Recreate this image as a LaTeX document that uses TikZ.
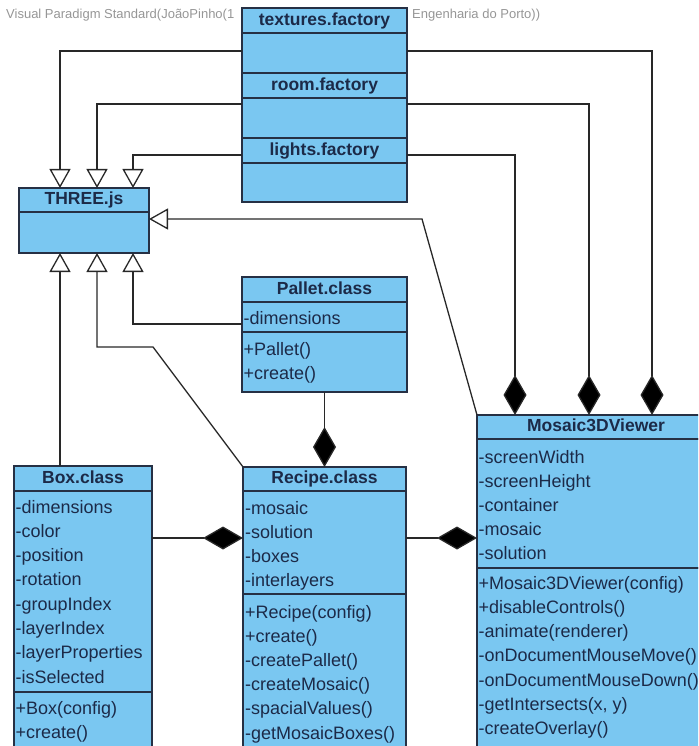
\documentclass[tikz,border=0pt]{standalone}
\usepackage{fontspec}
\setmainfont{Liberation Sans}
\usetikzlibrary{arrows.meta,calc}

\definecolor{clsfill}{RGB}{122,199,241}
\definecolor{clsline}{RGB}{38,48,68}
\definecolor{clstext}{RGB}{28,42,72}
\definecolor{wmark}{RGB}{150,150,150}
\definecolor{conn}{RGB}{40,40,40}

\tikzset{
  part/.style={draw=clsline, fill=clsfill, line width=1.3pt, inner sep=0pt,
    outer sep=0pt, anchor=north west},
  head/.style={part, font=\bfseries\fontsize{17.5}{20}\selectfont, text=clstext,
    text height=13pt, text depth=3.5pt},
  member/.style={anchor=base west, inner sep=0pt, text=clstext,
    font=\fontsize{18}{20}\selectfont},
  wm/.style={anchor=base west, inner sep=0pt, text=wmark,
    font=\fontsize{13}{15}\selectfont},
  gen/.style={draw=conn, line width=1.3pt,
    -{Triangle[length=19pt,width=21pt,fill=white]}},
  comp/.style={draw=conn, line width=1.3pt,
    -{Diamond[length=40pt,width=23pt,fill=black]}},
}

\begin{document}
\begin{tikzpicture}[x=1pt,y=-1pt]
\useasboundingbox (0,0) rectangle (698,746);
\clip (0,0) rectangle (698,746);

% tool header line
\node[wm] (wm1) at (6,19) {Visual Paradigm Standard(JoãoPinho(1};
\node[wm] (wm2) at (412,19) {Engenharia do Porto))};

% factory stack
\node[head, minimum width=165, minimum height=25] (texh) at (242,8) {textures.factory};
\node[part, minimum width=165, minimum height=40] (texb) at (242,33) {};
\node[head, minimum width=165, minimum height=25] (roomh) at (242,73) {room.factory};
\node[part, minimum width=165, minimum height=40] (roomb) at (242,98) {};
\node[head, minimum width=165, minimum height=25] (lighth) at (242,138) {lights.factory};
\node[part, minimum width=165, minimum height=39] (lightb) at (242,163) {};

% THREE.js
\node[head, minimum width=130, minimum height=24] (threeh) at (19,188) {THREE.js};
\node[part, minimum width=130, minimum height=41] (threeb) at (19,212) {};

% Pallet.class
\node[head, minimum width=165, minimum height=25] (palh) at (242,277) {Pallet.class};
\node[part, minimum width=165, minimum height=30] (pala) at (242,302) {};
\node[part, minimum width=165, minimum height=60] (palm) at (242,332) {};
\node[member] (pal-a1) at (243.5,324) {-dimensions};
\node[member] (pal-m1) at (243.5,355) {+Pallet()};
\node[member] (pal-m2) at (243.5,379) {+create()};

% Box.class
\node[head, minimum width=138, minimum height=25] (boxh) at (14,466) {Box.class};
\node[part, minimum width=138, minimum height=201] (boxa) at (14,491) {};
\node[part, minimum width=138, minimum height=80] (boxm) at (14,692) {};
\foreach \t [count=\i from 0] in {-dimensions,-color,-position,-rotation,
    -groupIndex,-layerIndex,-layerProperties,-isSelected}
  \node[member] (box-a\i) at (15.5,513+24.3*\i) {\t};
\foreach \t [count=\i from 0] in {+Box(config),+create()}
  \node[member] (box-m\i) at (15.5,714+24.5*\i) {\t};

% Recipe.class
\node[head, minimum width=163, minimum height=24] (rech) at (243,467) {Recipe.class};
\node[part, minimum width=163, minimum height=103] (reca) at (243,491) {};
\node[part, minimum width=163, minimum height=170] (recm) at (243,594) {};
\foreach \t [count=\i from 0] in {-mosaic,-solution,-boxes,-interlayers}
  \node[member] (rec-a\i) at (245,514+24.2*\i) {\t};
\foreach \t [count=\i from 0] in {+Recipe(config),+create(),-createPallet(),
    -createMosaic(),-spacialValues(),-getMosaicBoxes()}
  \node[member] (rec-m\i) at (245,618+24.2*\i) {\t};

% Mosaic3DViewer
\node[head, minimum width=238, minimum height=24] (mosh) at (477,415) {Mosaic3DViewer};
\node[part, minimum width=238, minimum height=129] (mosa) at (477,439) {};
\node[part, minimum width=238, minimum height=200] (mosm) at (477,568) {};
\foreach \t [count=\i from 0] in {-screenWidth,-screenHeight,-container,-mosaic,-solution}
  \node[member] (mos-a\i) at (478.5,463+24.2*\i) {\t};
\foreach \t [count=\i from 0] in {+Mosaic3DViewer(config),+disableControls(),
    -animate(renderer),-onDocumentMouseMove(),-onDocumentMouseDown(),
    -getIntersects(x{,} y),-createOverlay()}
  \node[member] (mos-m\i) at (478.5,589+24.3*\i) {\t};

% generalisations towards THREE.js
\draw[gen] ($(texb.north west)+(0,18)$) -| ($(threeh.north)+(-24,0)$);
\draw[gen] ($(roomb.north west)+(0,6)$) -| ($(threeh.north)+(13,0)$);
\draw[gen] ($(lighth.north west)+(0,17)$) -| ($(threeh.north)+(49,0)$);
\draw[gen] (mosh.north west) -- ($(threeb.north east)+(273,7)$)
  -- ($(threeb.north east)+(0,7)$);
\draw[gen] ($(boxh.north west)+(46,0)$) -- ($(threeb.south)+(-24,0)$);
\draw[gen] (rech.north west) -- ($(threeb.south)+(69,94)$)
  -- ($(threeb.south)+(13,94)$) -- ($(threeb.south)+(13,0)$);
\draw[gen] ($(pala.north west)+(0,22)$) -| ($(threeb.south)+(49,0)$);

% compositions
\draw[comp] ($(texb.north east)+(0,18)$) -| ($(mosh.north west)+(175,0)$);
\draw[comp] ($(roomb.north east)+(0,6)$) -| ($(mosh.north west)+(112,0)$);
\draw[comp] ($(lighth.north east)+(0,17)$) -| ($(mosh.north west)+(38,0)$);
\draw[comp] (palm.south) -- (rech.north);
\draw[comp] ($(boxa.north east)+(0,47)$) -- ($(reca.north west)+(0,47)$);
\draw[comp] ($(reca.north east)+(0,47)$) -- ($(mosa.north west)+(0,99)$);
\end{tikzpicture}
\end{document}
